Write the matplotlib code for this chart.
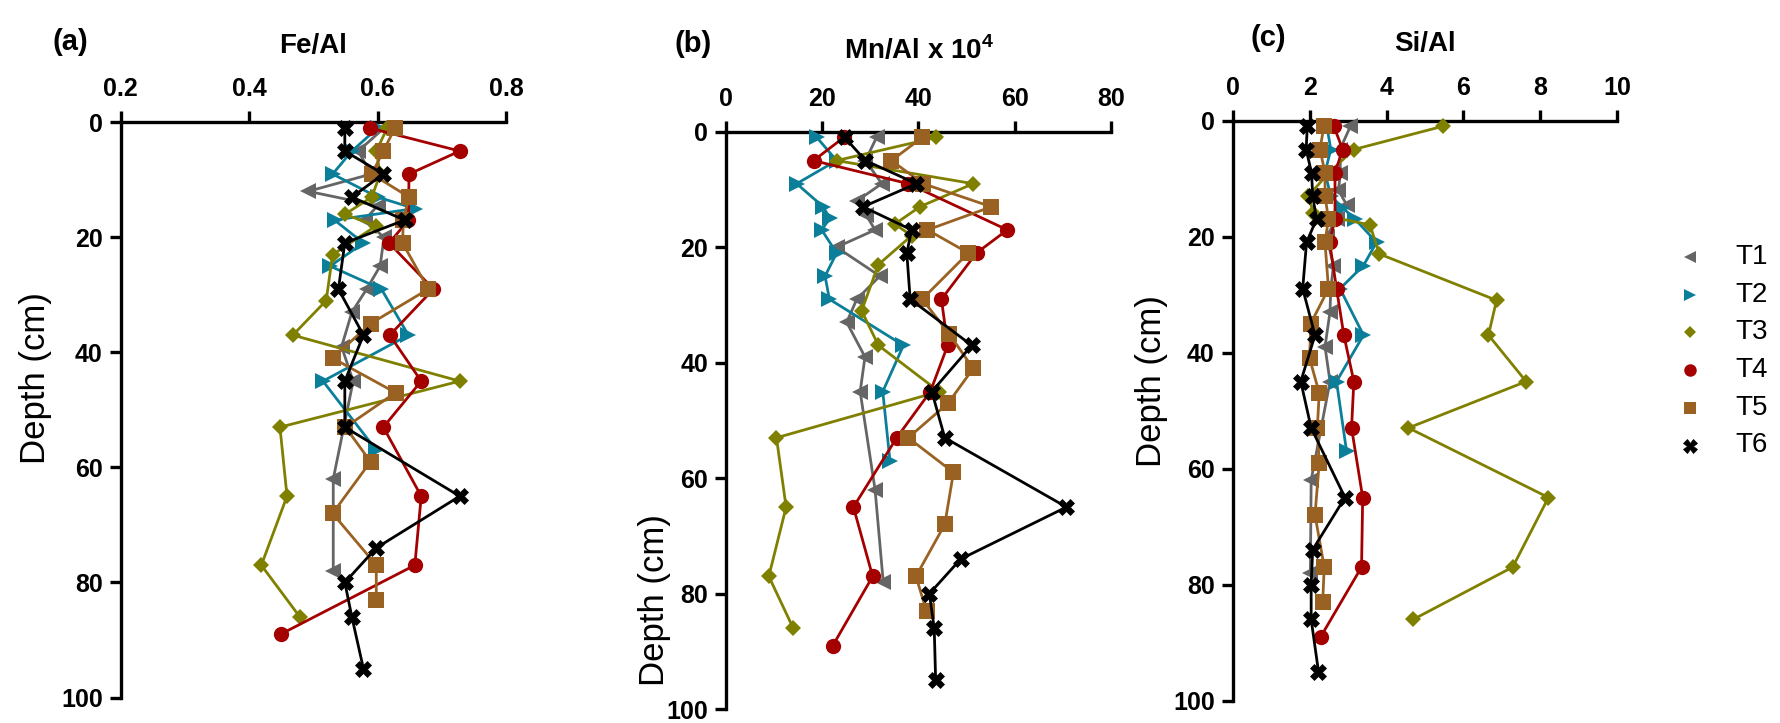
import matplotlib
matplotlib.use("Agg")
import matplotlib.pyplot as plt
from matplotlib.lines import Line2D

plt.rcParams['font.family'] = ['Liberation Sans', 'DejaVu Sans']
plt.rcParams['mathtext.fontset'] = 'custom'
plt.rcParams['mathtext.rm'] = 'Liberation Sans:bold'
plt.rcParams['mathtext.bf'] = 'Liberation Sans:bold'

# ---------------- data ----------------
treatments = ["T1", "T2", "T3", "T4", "T5", "T6"]

depth_T1 = [1, 5, 9, 12, 14.5, 17, 20, 25, 29, 33, 39, 45, 62, 78]
depth_T2 = [1, 5, 9, 13, 15, 17, 21, 25, 29, 37, 45, 57]
depth_T3 = [1, 5, 9, 13, 16, 18, 23, 31, 37, 45, 53, 65, 77, 86]
depth_T4 = [1, 5, 9, 17, 21, 29, 37, 45, 53, 65, 77, 89]
depth_T5 = [1, 5, 9, 13, 17, 21, 29, 35, 41, 47, 53, 59, 68, 77, 83]
depth_T6 = [1, 5, 9, 13, 17, 21, 29, 37, 45, 53, 65, 74, 80, 86, 95]

fe_T1 = [0.61, 0.57, 0.59, 0.492, 0.60, 0.58, 0.61, 0.604, 0.583, 0.56, 0.544, 0.562, 0.531, 0.531]
fe_T2 = [0.60, 0.56, 0.53, 0.60, 0.658, 0.533, 0.578, 0.526, 0.606, 0.648, 0.515, 0.598]
fe_T3 = [0.615, 0.598, 0.604, 0.591, 0.549, 0.598, 0.53, 0.52, 0.468, 0.728, 0.448, 0.459, 0.419, 0.479]
fe_T4 = [0.588, 0.728, 0.649, 0.648, 0.618, 0.687, 0.619, 0.668, 0.609, 0.668, 0.658, 0.449]
fe_T5 = [0.627, 0.609, 0.591, 0.649, 0.64, 0.639, 0.679, 0.589, 0.53, 0.628, 0.55, 0.589, 0.53, 0.598, 0.598]
fe_T6 = [0.549, 0.549, 0.609, 0.56, 0.642, 0.549, 0.539, 0.578, 0.549, 0.549, 0.728, 0.598, 0.549, 0.56, 0.578]

mn_T1 = [31.3, 29.0, 32.4, 27.2, 29.2, 31.0, 23.0, 32.0, 27.2, 25.1, 28.9, 27.9, 31.0, 32.7]
mn_T2 = [18.9, 23.0, 14.7, 20.2, 21.6, 19.9, 23.0, 20.6, 21.5, 36.9, 32.6, 34.1]
mn_T3 = [43.7, 23.0, 51.4, 40.3, 35.1, 38.6, 31.7, 28.2, 31.7, 44.3, 10.5, 12.5, 8.9, 14.0]
mn_T4 = [24.5, 18.2, 37.9, 58.5, 52.1, 44.8, 46.1, 42.5, 35.5, 26.5, 30.5, 22.2]
mn_T5 = [40.8, 34.4, 41.0, 55.2, 41.9, 50.4, 40.8, 46.4, 51.4, 46.2, 37.9, 47.3, 45.5, 39.5, 41.7]
mn_T6 = [24.7, 29.0, 39.6, 28.5, 38.6, 37.6, 38.3, 51.1, 42.8, 45.5, 70.8, 48.8, 42.3, 43.3, 43.6]

si_T1 = [3.06, 2.79, 2.80, 2.75, 2.96, 2.70, 2.44, 2.62, 2.55, 2.53, 2.40, 2.53, 2.04, 2.02]
si_T2 = [2.45, 2.55, 2.40, 2.55, 2.85, 3.18, 3.74, 3.40, 2.79, 3.40, 2.70, 2.96]
si_T3 = [5.46, 3.15, 2.50, 1.97, 2.10, 3.57, 3.81, 6.86, 6.65, 7.63, 4.57, 8.21, 7.28, 4.70]
si_T4 = [2.63, 2.86, 2.66, 2.66, 2.52, 2.70, 2.89, 3.15, 3.09, 3.38, 3.35, 2.29]
si_T5 = [2.37, 2.27, 2.40, 2.40, 2.49, 2.40, 2.49, 2.03, 2.00, 2.25, 2.20, 2.25, 2.14, 2.38, 2.34]
si_T6 = [1.94, 1.91, 2.05, 2.08, 2.18, 1.92, 1.82, 2.14, 1.77, 2.04, 2.92, 2.08, 2.04, 2.04, 2.23]

depths = [depth_T1, depth_T2, depth_T3, depth_T4, depth_T5, depth_T6]
fe_vals = [fe_T1, fe_T2, fe_T3, fe_T4, fe_T5, fe_T6]
mn_vals = [mn_T1, mn_T2, mn_T3, mn_T4, mn_T5, mn_T6]
si_vals = [si_T1, si_T2, si_T3, si_T4, si_T5, si_T6]

fe_ticks = [0.2, 0.4, 0.6, 0.8]
fe_ticklabels = ["0.2", "0.4", "0.6", "0.8"]
mn_ticks = [0, 20, 40, 60, 80]
si_ticks = [0, 2, 4, 6, 8, 10]
depth_ticks = [0, 20, 40, 60, 80, 100]

# ---------------- styles ----------------
colors = ["#656565", "#0b7f99", "#808000", "#a40000", "#9a6222", "#000000"]
markers = ["<", ">", "D", "o", "s", "X"]
msizes = [11, 11, 8, 11, 11, 12]

W, H = 1781, 723
fig = plt.figure(figsize=(W / 100, H / 100), dpi=100)


def ax_rect(left, top, right, bottom):
    return [left / W, 1 - bottom / H, (right - left) / W, (bottom - top) / H]


panels = [
    dict(rect=ax_rect(120.7, 122.3, 506.0, 697.5), vals=fe_vals, xlim=(0.2, 0.8),
         ticks=fe_ticks, ticklabels=fe_ticklabels),
    dict(rect=ax_rect(726.0, 131.7, 1110.7, 709.2), vals=mn_vals, xlim=(0, 80),
         ticks=mn_ticks, ticklabels=[str(t) for t in mn_ticks]),
    dict(rect=ax_rect(1232.7, 120.5, 1617.3, 700.5), vals=si_vals, xlim=(0, 10),
         ticks=si_ticks, ticklabels=[str(t) for t in si_ticks]),
]

for p in panels:
    ax = fig.add_axes(p["rect"])
    for i in range(len(treatments)):
        ax.plot(p["vals"][i], depths[i], color=colors[i], marker=markers[i],
                markersize=msizes[i], markeredgewidth=0 if markers[i] != "X" else 0.5,
                markeredgecolor=colors[i], linewidth=2.0, clip_on=False, zorder=3 + i)
    ax.set_xlim(*p["xlim"])
    ax.set_ylim(100, 0)
    ax.xaxis.tick_top()
    ax.set_xticks(p["ticks"])
    ax.set_xticklabels(p["ticklabels"])
    ax.set_yticks(depth_ticks)
    for s in ["right", "bottom"]:
        ax.spines[s].set_visible(False)
    for s in ["left", "top"]:
        ax.spines[s].set_linewidth(2.4)
    ax.tick_params(axis="both", width=2.4, length=8, labelsize=18, direction="out")
    ax.tick_params(axis="x", pad=7)
    ax.tick_params(axis="y", pad=5)
    for lab in ax.get_xticklabels() + ax.get_yticklabels():
        lab.set_fontweight("bold")
    ax.patch.set_visible(False)


def ftext(x, y, s, **kw):
    fig.text(x / W, 1 - y / H, s, ha="center", va="center", **kw)


ftext(70, 42, "(a)", fontsize=21, fontweight="bold")
ftext(693, 44, "(b)", fontsize=21, fontweight="bold")
ftext(1268, 38, "(c)", fontsize=21, fontweight="bold")
ftext(313, 46, "Fe/Al", fontsize=20, fontweight="bold")
ftext(919, 50, r"Mn/Al x 10$^{\mathbf{4}}$", fontsize=20, fontweight="bold")
ftext(1425, 44, "Si/Al", fontsize=20, fontweight="bold")

ftext(36, 378, "Depth (cm)", fontsize=25, rotation=90)
ftext(655, 600, "Depth (cm)", fontsize=25, rotation=90)
ftext(1152, 381, "Depth (cm)", fontsize=25, rotation=90)

# legend
leg_y0, leg_dy = 257, 37.7
for i, t in enumerate(treatments):
    yy = leg_y0 + i * leg_dy
    fig.add_artist(Line2D([1690 / W], [1 - yy / H], transform=fig.transFigure,
                          marker=markers[i], color=colors[i], markersize=msizes[i] - 2,
                          markeredgewidth=0 if markers[i] != "X" else 0.5,
                          markeredgecolor=colors[i], linestyle="none"))
    fig.text(1735 / W, 1 - yy / H, t, ha="left", va="center", fontsize=20)

fig.savefig("out.png", dpi=100)
